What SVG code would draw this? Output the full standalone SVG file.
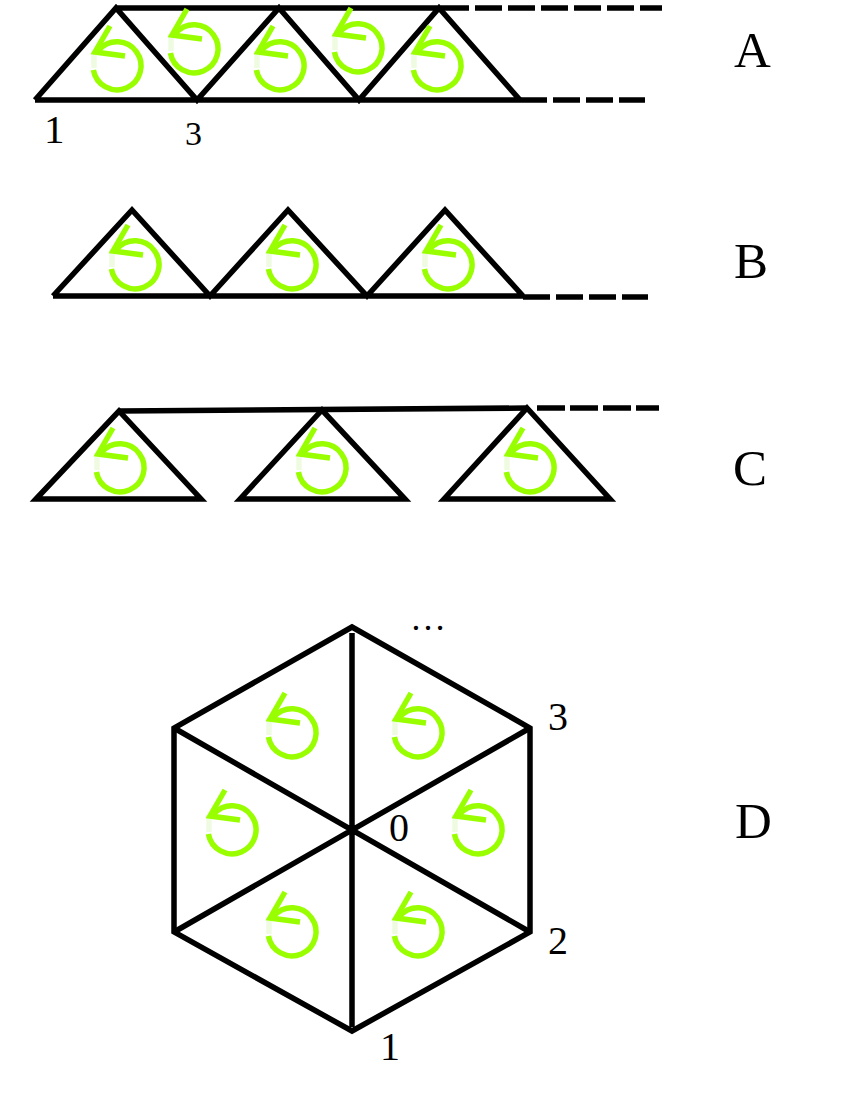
<svg xmlns="http://www.w3.org/2000/svg" xmlns:xlink="http://www.w3.org/1999/xlink" width="850" height="1100" viewBox="0 0 850 1100">
<style>
.edge{fill:none;stroke:#000;stroke-width:5.5;stroke-linejoin:miter;stroke-linecap:butt}
.dash{fill:none;stroke:#000;stroke-width:5.5;stroke-dasharray:27 6}
.rot{fill:none;stroke:#99ff00;stroke-width:5.5}
.pale{fill:none;stroke:#eefbe0;stroke-width:5.5}
.lbl{font-family:"Liberation Serif","Times New Roman",serif;fill:#000}
</style>
<defs>
<g id="rot">
<path class="pale" d="M -23 -15 L -23 2"/>
<path class="rot" d="M -23.6 4 A 24 24 0 1 0 -18 -16"/>
<path class="rot" d="M -7 -40 L -22 -14 L 8 -10"/>
</g>
</defs>
<rect width="850" height="1100" fill="#fff"/>

<g id="rowA">
<path class="edge" d="M 35 100 L 520 100 M 35 100 L 116 8 L 197 100 L 279 8 L 359 100 L 439 8 L 520 100 M 116 8 L 442 8"/>
<use href="#rot" x="117" y="66"/>
<use href="#rot" x="194" y="49"/>
<use href="#rot" x="280" y="66"/>
<use href="#rot" x="358" y="48"/>
<use href="#rot" x="437" y="66"/>
<text class="lbl" x="44" y="143" font-size="41">1</text>
<text class="lbl" x="185" y="145" font-size="34">3</text>
</g>

<g id="rowB">
<path class="edge" d="M 53 296 L 523 296 M 53 296 L 132 210 L 210 296 L 288 210 L 367 296 L 445 210 L 523 296"/>
<use href="#rot" x="135" y="265"/>
<use href="#rot" x="292" y="265"/>
<use href="#rot" x="448" y="265"/>
</g>

<g id="rowC">
<path class="edge" d="M 36 499 L 119 411 L 201 499 Z"/>
<path class="edge" d="M 240 499 L 322 410 L 405 499 Z"/>
<path class="edge" d="M 444 499 L 527 408 L 610 499 Z"/>
<use href="#rot" x="120" y="468"/>
<use href="#rot" x="322" y="468"/>
<use href="#rot" x="530" y="468"/>
</g>

<g id="hexD">
<path class="edge" d="M 352 627 L 530 728 L 530 932 L 352 1031 L 174 932 L 174 728 Z"/>
<path class="edge" d="M 352 633 L 352 1027 M 174 728 L 530 932 M 530 728 L 174 932"/>
<use href="#rot" x="292" y="733"/>
<use href="#rot" x="418" y="733"/>
<use href="#rot" x="232" y="830"/>
<use href="#rot" x="478" y="830"/>
<use href="#rot" x="292" y="932"/>
<use href="#rot" x="418" y="932"/>
<text class="lbl" x="389" y="841" font-size="40">0</text>
<text class="lbl" x="380" y="1060" font-size="40">1</text>
<text class="lbl" x="548" y="954" font-size="40">2</text>
<text class="lbl" x="548" y="730" font-size="40">3</text>
<text class="lbl" x="410" y="630" font-size="36">…</text>
</g>

<g id="connectors">
<path class="dash" d="M 442 8 L 662 8"/>
<path class="dash" d="M 520 100 L 645 100"/>
<path class="dash" d="M 523 297 L 648 297"/>
<path class="edge" d="M 119 411 L 527 408"/>
<path class="dash" d="M 537 408 L 659 408" style="stroke-dasharray:28 5"/>
</g>

<g id="labels">
<text class="lbl" x="734" y="67" font-size="51">A</text>
<text class="lbl" x="734" y="278" font-size="51">B</text>
<text class="lbl" x="733" y="485" font-size="51">C</text>
<text class="lbl" x="735" y="838" font-size="51">D</text>
</g>
</svg>
